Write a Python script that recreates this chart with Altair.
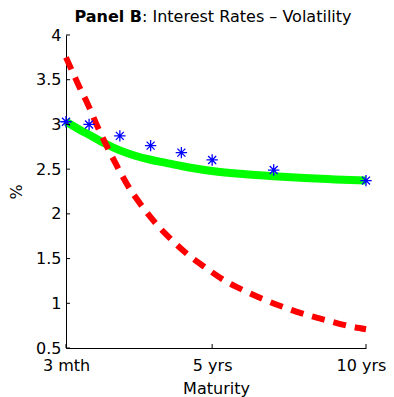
import altair as alt
import pandas as pd

# Maturity in years
green_m = [0.25, 0.5, 0.75, 1, 1.5, 2, 2.5, 3, 3.5, 4, 4.5, 5, 6, 7, 8, 9, 10]
green_v = [3.03, 2.98, 2.93, 2.885, 2.79, 2.71, 2.65, 2.605, 2.57, 2.535, 2.505, 2.48,
           2.445, 2.42, 2.40, 2.385, 2.372]

red_m = [0.25, 0.67, 0.98, 1.28, 1.60, 1.93, 2.27, 2.69, 3.15, 3.65, 4.19, 4.78, 5.40,
         6.05, 6.70, 7.41, 8.09, 8.79, 9.52, 10]
red_v = [3.75, 3.43, 3.21, 2.97, 2.74, 2.52, 2.31, 2.10, 1.90, 1.72, 1.55, 1.40, 1.255,
         1.14, 1.04, 0.946, 0.868, 0.804, 0.74, 0.71]

star_m = [0.25, 1, 2, 3, 4, 5, 7, 10]
star_v = [3.03, 3.0, 2.872, 2.763, 2.685, 2.603, 2.49, 2.372]

x_ticks = [0.25, 5, 10]
x_tick_labels = ["3 mth", "5 yrs", "10 yrs"]
y_ticks = [0.5, 1, 1.5, 2, 2.5, 3, 3.5, 4]

title_bold = "Panel B"
title_rest = ": Interest Rates \u2013 Volatility"

FONT = "DejaVu Sans"
W, H = 300, 313

label_expr = " : ".join(
    f"datum.value == {v} ? '{t}'" for v, t in zip(x_ticks, x_tick_labels)
) + " : ''"

xscale = alt.Scale(domain=[0.25, 10], nice=False, zero=False)
yscale = alt.Scale(domain=[0.5, 4], nice=False, zero=False)

xaxis = alt.Axis(values=x_ticks, labelExpr=label_expr, title="Maturity", ticks=False,
                 grid=False, labelFlush=False, labelOverlap=False, labelBound=False,
                 labelOffset={"condition": {"test": "datum.value == 10", "value": -5},
                              "value": 0},
                 labelPadding=9, titlePadding=7, domainColor="black", domainWidth=1,
                 labelFont=FONT, labelFontSize=16, labelColor="black",
                 titleFont=FONT, titleFontSize=16, titleFontWeight="normal",
                 titleColor="black")
yaxis = alt.Axis(values=y_ticks, format="~g", title="%", ticks=False, grid=False,
                 labelPadding=5, titlePadding=11, labelOverlap=False, labelBound=False,
                 domainColor="black", domainWidth=1,
                 labelFont=FONT, labelFontSize=16, labelColor="black",
                 titleFont=FONT, titleFontSize=16, titleFontWeight="normal",
                 titleColor="black")

green = alt.Chart(pd.DataFrame({"m": green_m, "v": green_v})).mark_line(
    color="#00ff00", strokeWidth=8, interpolate="monotone"
).encode(
    x=alt.X("m:Q", scale=xscale, axis=xaxis),
    y=alt.Y("v:Q", scale=yscale, axis=yaxis),
)

red = alt.Chart(pd.DataFrame({"m": red_m, "v": red_v})).mark_line(
    color="#ff0000", strokeWidth=6, strokeDash=[13, 9], interpolate="monotone"
).encode(x="m:Q", y="v:Q")

asterisk = "M0,-1L0,1M-1,0L1,0M-0.7,-0.7L0.7,0.7M-0.7,0.7L0.7,-0.7"
stars = alt.Chart(pd.DataFrame({"m": star_m, "v": star_v})).mark_point(
    shape=asterisk, size=130, filled=False, color="#0000ff", strokeWidth=1.3, opacity=1
).encode(x="m:Q", y="v:Q")

ytick_rules = alt.Chart(pd.DataFrame({"v": y_ticks})).mark_rule(
    color="black", strokeWidth=1
).encode(y="v:Q", x=alt.value(0), x2=alt.value(4))

xtick_rules = alt.Chart(pd.DataFrame({"m": x_ticks})).mark_rule(
    color="black", strokeWidth=1
).encode(x="m:Q", y=alt.value(H), y2=alt.value(H - 4))

t1 = alt.Chart(pd.DataFrame({"t": [title_bold]})).mark_text(
    font=FONT, fontSize=16, fontWeight="bold", align="right", baseline="alphabetic",
    color="black"
).encode(text="t:N", x=alt.value(76), y=alt.value(-13))

t2 = alt.Chart(pd.DataFrame({"t": [title_rest]})).mark_text(
    font=FONT, fontSize=16, fontWeight="normal", align="left", baseline="alphabetic",
    color="black"
).encode(text="t:N", x=alt.value(76), y=alt.value(-13))

chart = alt.layer(green, red, stars, ytick_rules, xtick_rules, t1, t2).properties(
    width=W, height=H,
    autosize=alt.AutoSizeParams(type="none"),
    padding={"left": 58, "top": 27, "right": 20, "bottom": 54},
    background="white",
).configure_view(stroke=None)

chart.save("out.html", embed_options={"renderer": "svg", "actions": False})
